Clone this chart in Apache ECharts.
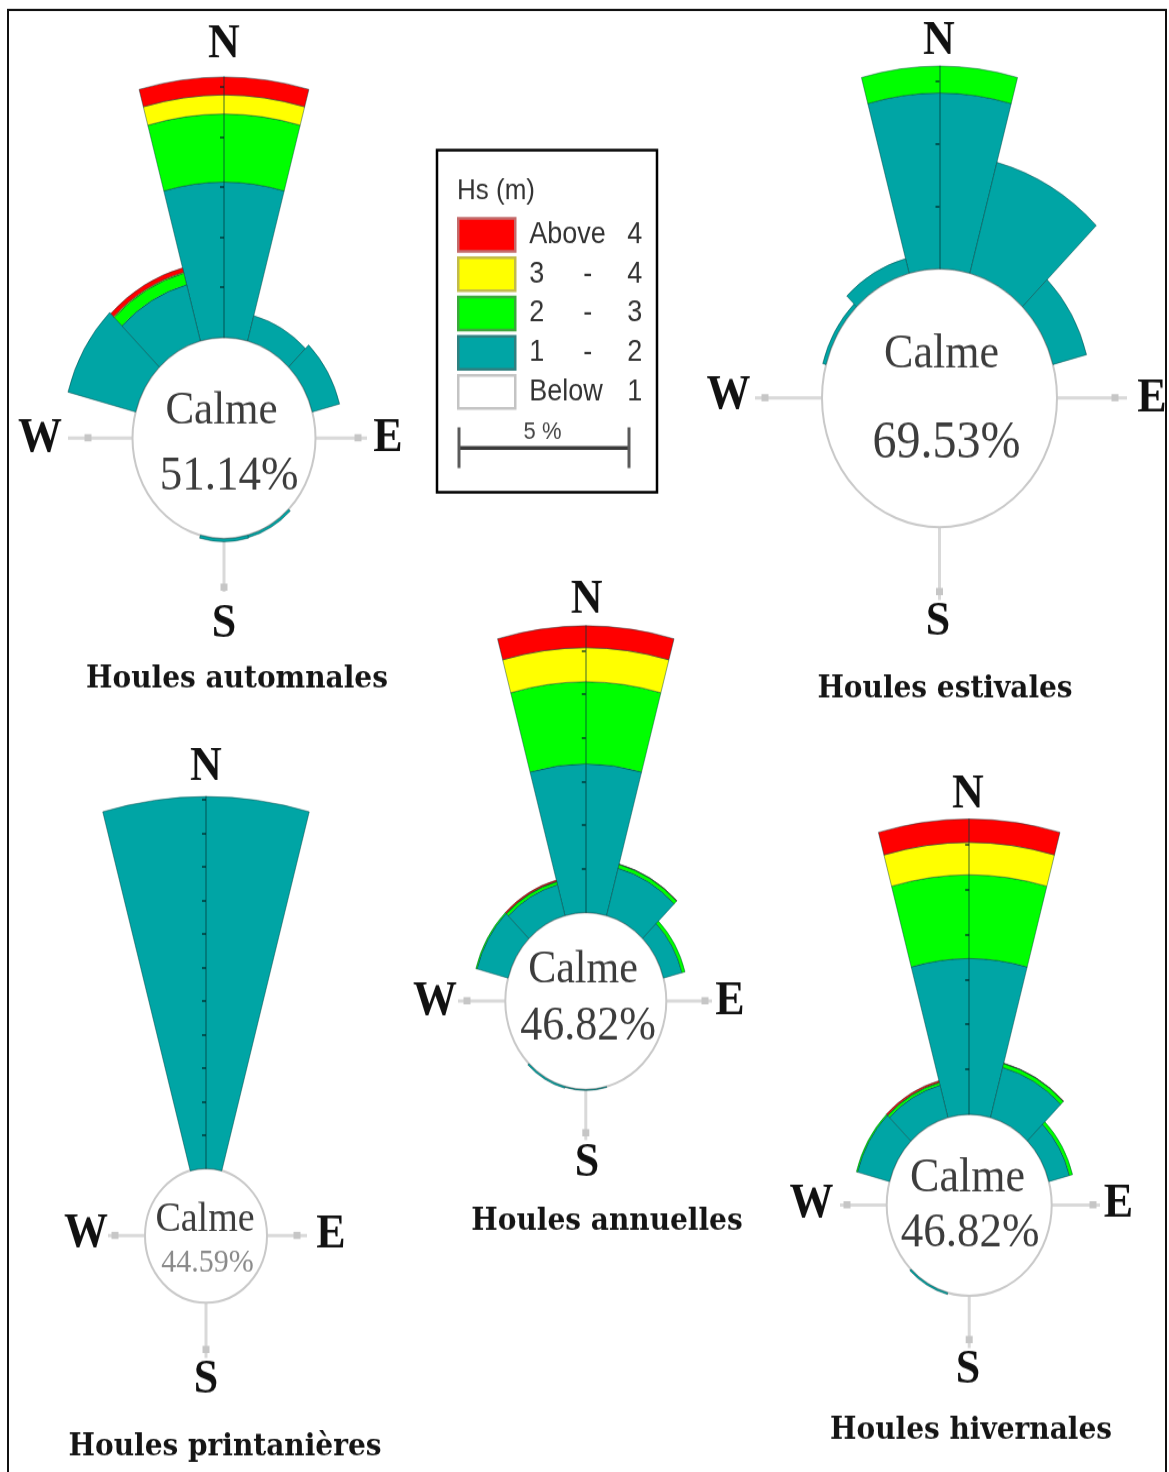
<!DOCTYPE html>
<html>
<head>
<meta charset="utf-8">
<title>Roses des houles</title>
<script src="https://cdn.jsdelivr.net/npm/echarts@6/dist/echarts.min.js"></script>
<style>
  html, body { margin: 0; padding: 0; background: #fff; overflow: hidden; }
  #stage { width: 1169px; height: 1472px; overflow: hidden; position: relative; }
  /* drawing is laid out on a 1338px-high canvas and stretched to full height */
  #chart { width: 1169px; height: 1338px; transform: scaleY(1.1); transform-origin: 0 0; }
</style>
</head>
<body>
<div id="stage"><div id="chart"></div></div>
<script>
// ---- data -----------------------------------------------------------------
// 30-degree direction sectors, clockwise from north
const directions = ['N', 'NNE', 'ENE', 'E', 'ESE', 'SSE', 'S', 'SSW', 'WSW', 'W', 'WNW', 'NNW'];
// wave height classes Hs (m), stacked from the calm circle outward
const classNames = ['1 - 2', '2 - 3', '3 - 4', 'Above 4'];
const roseTitles = ['Houles automnales', 'Houles estivales', 'Houles printanières', 'Houles annuelles', 'Houles hivernales'];
const calmPercent = [51.14, 69.53, 44.59, 46.82, 46.82];
const ringStep = 5; // % between rings on the north axis

// frequencies (%) per direction, one array per Hs class
const autumnHs12 = [15.5, 2.6, 3.1, 0, 0, 0.25, 0.3, 0, 0, 0, 7.7, 5.8];
const autumnHs23 = [6.8, 0, 0, 0, 0, 0, 0, 0, 0, 0, 0, 1.2];
const autumnHs34 = [1.9, 0, 0, 0, 0, 0, 0, 0, 0, 0, 0, 0.1];
const autumnHs4  = [1.8, 0, 0, 0, 0, 0, 0, 0, 0, 0, 0, 0.45];

const summerHs12 = [14.0, 9.15, 3.05, 0, 0, 0, 0, 0, 0, 0, 0.3, 1.2];
const summerHs23 = [2.15, 0, 0, 0, 0, 0, 0, 0, 0, 0, 0, 0];
const summerHs34 = [0, 0, 0, 0, 0, 0, 0, 0, 0, 0, 0, 0];
const summerHs4  = [0, 0, 0, 0, 0, 0, 0, 0, 0, 0, 0, 0];

const springHs12 = [55.4, 0, 0, 0, 0, 0, 0, 0, 0, 0, 0, 0];
const springHs23 = [0, 0, 0, 0, 0, 0, 0, 0, 0, 0, 0, 0];
const springHs34 = [0, 0, 0, 0, 0, 0, 0, 0, 0, 0, 0, 0];
const springHs4  = [0, 0, 0, 0, 0, 0, 0, 0, 0, 0, 0, 0];

const annualHs12 = [17.0, 5.6, 2.4, 0, 0, 0, 0.1, 0.2, 0, 0, 4.05, 3.65];
const annualHs23 = [9.4, 0.45, 0.4, 0, 0, 0, 0, 0, 0, 0, 0.15, 0.35];
const annualHs34 = [3.9, 0, 0, 0, 0, 0, 0, 0, 0, 0, 0, 0.05];
const annualHs4  = [2.5, 0.05, 0, 0, 0, 0, 0, 0, 0, 0, 0, 0.15];

const winterHs12 = [17.3, 5.75, 2.6, 0, 0, 0, 0, 0.2, 0, 0, 4.05, 3.7];
const winterHs23 = [9.3, 0.45, 0.4, 0, 0, 0, 0, 0, 0, 0, 0.15, 0.3];
const winterHs34 = [3.6, 0, 0, 0, 0, 0, 0, 0, 0, 0, 0, 0.05];
const winterHs4  = [2.6, 0.05, 0, 0, 0, 0, 0, 0, 0, 0, 0, 0.18];

const roseData = [
  [autumnHs12, autumnHs23, autumnHs34, autumnHs4],
  [summerHs12, summerHs23, summerHs34, summerHs4],
  [springHs12, springHs23, springHs34, springHs4],
  [annualHs12, annualHs23, annualHs34, annualHs4],
  [winterHs12, winterHs23, winterHs34, winterHs4]
];

// ---- styles ---------------------------------------------------------------
const classColors  = ['#00a5a5', '#00ff00', '#ffff00', '#ff0000'];
const swatchBorder = ['#2f8080', '#3aa83a', '#c2bb4a', '#c46a6a'];
const belowColor = '#ffffff', belowBorder = '#c4c4c4';

// ---- layout (pixels on the 1338px drawing) --------------------------------
// cx, cy: rose centre; r0: calm circle radius; ringPx: pixels per ringStep
const roseLayout = [
  { cx: 224,   cy: 398.2,  r0: 91.5,  ringPx: 45.5 },
  { cx: 939.5, cy: 361.8,  r0: 117.5, ringPx: 57 },
  { cx: 206,   cy: 1123.3, r0: 61,    ringPx: 30.5 },
  { cx: 585.8, cy: 910,    r0: 80.5,  ringPx: 39.7 },
  { cx: 969.2, cy: 1095.5, r0: 82.5,  ringPx: 40.9 }
];
const labelLayout = [
  { n: [224, 41],    w: [40, 399],     e: [388, 399],     s: [224, 568],
    wEnd: 68,  wMark: 88,  eEnd: 367,  eMark: 358,  sEnd: 538,    sMark: 534,
    calme: [221.5, 373.6, 43], pct: [229, 433.6, 45, '#3c3c3c'], title: [237, 618] },
  { n: [939, 37.5],  w: [728.5, 360],  e: [1152, 362.5],  s: [938, 565.5],
    wEnd: 755, wMark: 765, eEnd: 1127, eMark: 1115, sEnd: 545.5,  sMark: 538,
    calme: [941.5, 322.8, 44], pct: [946.5, 403.6, 48, '#3c3c3c'], title: [945, 627] },
  { n: [206, 698],   w: [86, 1122],    e: [331, 1123],    s: [206, 1254.5],
    wEnd: 108, wMark: 115, eEnd: 307,  eMark: 297,  sEnd: 1234.5, sMark: 1227,
    calme: [205, 1108.6, 38],  pct: [207.5, 1147.7, 30, '#8a8a8a'], title: [225, 1316] },
  { n: [586.7, 546], w: [435, 910.6],  e: [730, 910.6],   s: [587, 1057.3],
    wEnd: 458, wMark: 467, eEnd: 712,  eMark: 705,  sEnd: 1036.4, sMark: 1030,
    calme: [583, 881.8, 42],   pct: [588, 933.3, 44, '#3c3c3c'], title: [607, 1111] },
  { n: [968, 722.7], w: [811.5, 1095], e: [1118.5, 1095], s: [968, 1245.5],
    wEnd: 840, wMark: 847, eEnd: 1100, eMark: 1093, sEnd: 1225.5, sMark: 1218,
    calme: [967.5, 1071, 44],  pct: [970, 1121, 45, '#3c3c3c'], title: [971, 1301] }
];

const serif = '"Liberation Serif", "Times New Roman", serif';
const titleFont = '"DejaVu Serif", serif';
const sans = '"Liberation Sans", Arial, sans-serif';

// ---- build options --------------------------------------------------------
const polar = [], angleAxis = [], radiusAxis = [], series = [], graphic = [];

function txt(x, y, text, size, opts) {
  opts = opts || {};
  return {
    type: 'text', x: x, y: y, z: 20, silent: true,
    style: {
      text: text, fontSize: size, fontFamily: opts.family || serif,
      fontWeight: opts.weight || 'normal', fill: opts.color || '#111',
      align: opts.align || 'center', verticalAlign: 'middle'
    }
  };
}
function seg(x1, y1, x2, y2, color, width, z) {
  return { type: 'line', z: z || 1, silent: true,
    shape: { x1: x1, y1: y1, x2: x2, y2: y2 },
    style: { stroke: color, lineWidth: width } };
}
function mark(x, y) {
  return { type: 'rect', z: 2, silent: true,
    shape: { x: x - 3.5, y: y - 3.5, width: 7, height: 6.5 },
    style: { fill: '#c6c6c6' } };
}

roseData.forEach(function (classes, i) {
  const L = roseLayout[i];
  const T = labelLayout[i];
  const totals = directions.map(function (_, d) {
    return classes.reduce(function (s, arr) { return s + arr[d]; }, 0);
  });
  const maxTotal = Math.max.apply(null, totals);
  const rOut = L.r0 + maxTotal / ringStep * L.ringPx;
  const ringTicks = [];
  for (let v = ringStep; v < maxTotal - 0.01; v += ringStep) ringTicks.push(v);

  // polar for the sectors: north sector centred on 90 degrees
  polar.push({ center: [L.cx, L.cy], radius: [L.r0, rOut] });
  angleAxis.push({ polarIndex: 2 * i, type: 'category', data: directions,
    startAngle: 105, clockwise: true, boundaryGap: true, show: false });
  radiusAxis.push({ polarIndex: 2 * i, type: 'value', min: 0, max: maxTotal, show: false });

  // second polar carrying the north reference axis with its ring ticks
  polar.push({ center: [L.cx, L.cy], radius: [L.r0, rOut] });
  angleAxis.push({ polarIndex: 2 * i + 1, type: 'value', min: 0, max: 360,
    startAngle: 90, show: false });
  radiusAxis.push({ polarIndex: 2 * i + 1, type: 'value', min: 0, max: maxTotal,
    interval: ringStep, z: 6,
    axisLine: { show: true, lineStyle: { color: 'rgba(0,55,55,0.5)', width: 1.5 } },
    axisTick: { show: true, length: 4, customValues: ringTicks,
      lineStyle: { color: 'rgba(0,40,40,0.65)', width: 2 } },
    axisLabel: { show: false }, splitLine: { show: false }, splitArea: { show: false } });

  // calm circle
  series.push({
    type: 'pie', center: [L.cx, L.cy], radius: [0, L.r0], silent: true, z: 1,
    animation: false, label: { show: false }, labelLine: { show: false },
    itemStyle: { color: '#ffffff', borderColor: '#c9c9c9', borderWidth: 2 },
    emphasis: { disabled: true },
    data: [{ name: 'Calme', value: calmPercent[i] }]
  });

  classes.forEach(function (arr, c) {
    series.push({
      type: 'bar', name: classNames[c], coordinateSystem: 'polar', polarIndex: 2 * i,
      stack: 'rose' + i, barCategoryGap: '0%', silent: true, z: 2,
      itemStyle: { color: classColors[c], borderColor: 'rgba(0,60,60,0.45)', borderWidth: 1 },
      data: arr.map(function (v) { return v > 0 ? v : null; })
    });
  });

  // compass arms and letters
  graphic.push(seg(T.wEnd, L.cy, L.cx - L.r0, L.cy, '#d9d9d9', 3));
  graphic.push(seg(L.cx + L.r0, L.cy, T.eEnd, L.cy, '#d9d9d9', 3));
  graphic.push(seg(L.cx, L.cy + L.r0, L.cx, T.sEnd, '#d9d9d9', 3));
  graphic.push(mark(T.wMark, L.cy), mark(T.eMark, L.cy), mark(L.cx, T.sMark));
  const bold = { weight: 'bold', color: '#111' };
  graphic.push(txt(T.n[0], T.n[1], 'N', 44, bold));
  graphic.push(txt(T.w[0], T.w[1], 'W', 44, bold));
  graphic.push(txt(T.e[0], T.e[1], 'E', 44, bold));
  graphic.push(txt(T.s[0], T.s[1], 'S', 44, bold));

  // calm label and rose title
  graphic.push(txt(T.calme[0], T.calme[1], 'Calme', T.calme[2], { color: '#3c3c3c' }));
  graphic.push(txt(T.pct[0], T.pct[1], calmPercent[i].toFixed(2) + '%', T.pct[2], { color: T.pct[3] }));
  graphic.push(txt(T.title[0], T.title[1], roseTitles[i], 28, { family: titleFont, weight: 'bold', color: '#151515' }));
});

// legend-only series for the lowest class
series.push({ type: 'bar', name: 'Below 1', coordinateSystem: 'polar', polarIndex: 0,
  stack: 'rose0', data: [], itemStyle: { color: belowColor, borderColor: belowBorder } });

// outer frame
graphic.push({ type: 'rect', z: 0, silent: true,
  shape: { x: 8, y: 9.1, width: 1158, height: 1400 },
  style: { fill: 'none', stroke: '#111', lineWidth: 2 } });
// legend box, heading and scale bar
graphic.push({ type: 'rect', z: 0, silent: true,
  shape: { x: 437, y: 136.4, width: 220, height: 311 },
  style: { fill: '#fff', stroke: '#000', lineWidth: 2.5 } });
graphic.push(txt(457, 173.6, 'Hs (m)', 26, { family: sans, color: '#333', align: 'left' }));
graphic.push(seg(459, 407.3, 629, 407.3, '#3a3a3a', 3.5, 3));
graphic.push(seg(459, 388.5, 459, 425.5, '#5a5a5a', 3, 3));
graphic.push(seg(629, 388.5, 629, 425.5, '#5a5a5a', 3, 3));
graphic.push(txt(542.5, 392.7, '5 %', 22, { family: sans, color: '#444' }));

const legendNames = ['Above 4', '3 - 4', '2 - 3', '1 - 2', 'Below 1'];
const legendData = legendNames.map(function (name) {
  const c = classNames.indexOf(name);
  return {
    name: name, icon: 'rect',
    itemStyle: c >= 0
      ? { color: classColors[c], borderColor: swatchBorder[c], borderWidth: 2.5 }
      : { color: belowColor, borderColor: belowBorder, borderWidth: 2.5 }
  };
});

const tok = { fontFamily: sans, fontSize: 27, color: '#333', lineHeight: 30 };
const option = {
  animation: false,
  backgroundColor: '#ffffff',
  polar: polar,
  angleAxis: angleAxis,
  radiusAxis: radiusAxis,
  legend: {
    orient: 'vertical', left: 452, top: 192.3, padding: 5,
    itemWidth: 57, itemHeight: 30, itemGap: 3.2, selectedMode: false, z: 10,
    data: legendData,
    formatter: function (name) {
      const p = name.split(' ');
      if (p.length === 2) return '{g| }{w|' + p[0] + '}{v|' + p[1] + '}';
      return '{g| }{n|' + p[0] + '}{d|' + p[1] + '}{v|' + p[2] + '}';
    },
    textStyle: Object.assign({}, tok, {
      rich: {
        g: Object.assign({}, tok, { width: 9 }),
        w: Object.assign({}, tok, { width: 98 }),
        n: Object.assign({}, tok, { width: 54 }),
        d: Object.assign({}, tok, { width: 44 }),
        v: Object.assign({}, tok)
      }
    })
  },
  graphic: graphic,
  series: series
};

const chart = echarts.init(document.getElementById('chart'));
chart.setOption(option);
</script>
</body>
</html>
